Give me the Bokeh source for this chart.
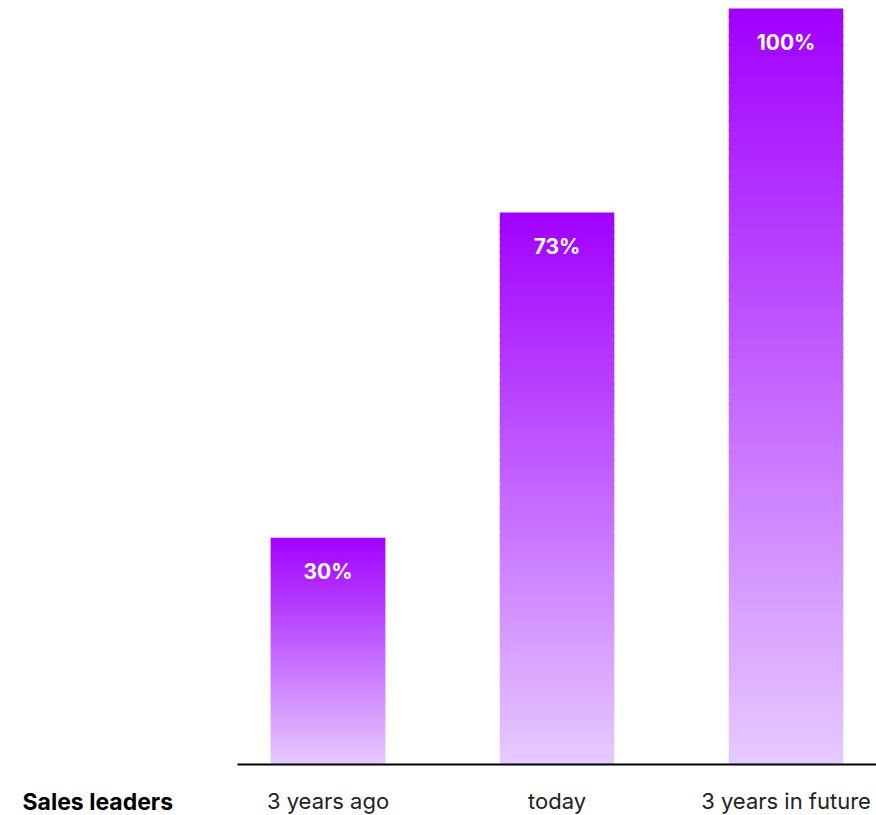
from bokeh.plotting import figure
from bokeh.models import Range1d, FixedTicker, Label
from bokeh.core.properties import value
from bokeh.embed import file_html
from bokeh.resources import INLINE

categories = ["3 years ago", "today", "3 years in future"]
values = [30, 73, 100]
value_labels = ["30%", "73%", "100%"]
row_label = "Sales leaders"

top_rgb = (161, 0, 255)
bottom_rgb = (230, 202, 255)
n_slices = 80

p = figure(frame_width=876, frame_height=815, output_backend="svg", toolbar_location=None,
           x_range=Range1d(-1.430, 2.395), y_range=Range1d(-6.746, 101.058),
           min_border_left=0, min_border_right=0, min_border_top=0, min_border_bottom=0)

xs = list(range(len(categories)))
left, right, bottom, top, colors = [], [], [], [], []
for i, v in zip(xs, values):
    for k in range(n_slices):
        y0 = v * k / n_slices
        y1 = v * (k + 1) / n_slices
        if k < n_slices - 1:
            y1 += 0.3
        t = (k + 0.5) / n_slices  # 0 bottom -> 1 top
        c = tuple(int(round(b + (a - b) * t)) for a, b in zip(top_rgb, bottom_rgb))
        left.append(i - 0.25)
        right.append(i + 0.25)
        bottom.append(y0)
        top.append(y1)
        colors.append("#%02x%02x%02x" % c)
p.quad(left=left, right=right, bottom=bottom, top=top, fill_color=colors, line_color=None)

p.text(x=xs, y=values, text=value_labels, y_offset=34, text_align="center", text_baseline="middle",
       text_color="white", text_font=value("Inter"), text_font_style="bold", text_font_size="21px")

p.xaxis.fixed_location = 0
p.xaxis.bounds = (-0.395, 2.395)
p.xaxis.ticker = FixedTicker(ticks=xs)
p.xaxis.major_label_overrides = {i: c for i, c in zip(xs, categories)}
p.xaxis.axis_line_color = "black"
p.xaxis.axis_line_width = 2
p.xaxis.major_tick_line_color = None
p.xaxis.minor_tick_line_color = None
p.xaxis.major_label_text_font = "Inter"
p.xaxis.major_label_text_font_size = "22px"
p.xaxis.major_label_text_color = "#222222"
p.xaxis.major_label_standoff = 17
p.yaxis.visible = False
p.xgrid.visible = False
p.ygrid.visible = False
p.outline_line_color = None

lbl = Label(x=-1.334, y=-4.95, text=row_label,
            text_align="left", text_baseline="middle",
            text_font="Inter", text_font_style="bold", text_font_size="23px", text_color="black")
p.add_layout(lbl)

open("out.html", "w").write(file_html(p, INLINE))
